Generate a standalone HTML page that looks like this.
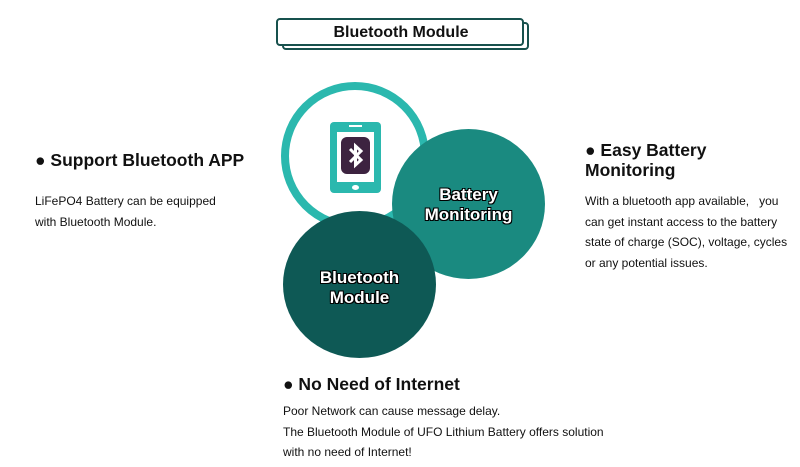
<!DOCTYPE html>
<html><head><meta charset="utf-8"><style>
body{margin:0;width:800px;height:467px;background:#fff;position:relative;overflow:hidden;font-family:"Liberation Sans","DejaVu Sans",sans-serif;color:#111}
.a{position:absolute;white-space:nowrap}
.h{font-size:17.5px;font-weight:bold}
.b{font-size:12px;line-height:20.5px}
.c{position:absolute;border-radius:50%}
.t{position:absolute;color:#fff;font-weight:bold;font-size:17px;text-align:center;line-height:20px;text-shadow:-1px -1px 0 #000,1px -1px 0 #000,-1px 1px 0 #000,1px 1px 0 #000}
</style></head><body>
<div class="a" style="left:282px;top:22px;width:243px;height:24px;border:2px solid #17514d;border-radius:4px"></div>
<div class="a" style="left:276px;top:18px;width:244px;height:24px;border:2px solid #17514d;border-radius:4px;background:#fff"></div>
<div class="a" style="left:278px;top:21px;width:246px;text-align:center;font-size:16px;font-weight:bold;line-height:24px">Bluetooth Module</div>

<div class="c" style="left:281px;top:82px;width:132px;height:132px;border:8px solid #2bb8ae"></div>
<div class="a" style="left:330px;top:122px;width:51px;height:71px;background:#2bb8ae;border-radius:4px"></div>
<div class="a" style="left:337px;top:132px;width:37px;height:50px;background:#fff"></div>
<div class="a" style="left:341px;top:137px;width:29px;height:37px;background:#3d2340;border-radius:6px"></div>
<svg class="a" style="left:341px;top:137px" width="29" height="37"><path d="M9 12 L20 23 L14.5 28 V9 L20 14 L9 25" fill="none" stroke="#fff" stroke-width="3"/></svg>
<div class="a" style="left:352px;top:185px;width:7px;height:5px;background:#fff;border-radius:50%"></div>
<div class="a" style="left:349px;top:125px;width:13px;height:2px;background:#fff"></div>

<div class="c" style="left:392px;top:129px;width:153px;height:150px;background:#1a8a80"></div>
<div class="t" style="left:392px;top:185px;width:153px">Battery<br>Monitoring</div>
<div class="c" style="left:283px;top:211px;width:153px;height:147px;background:#0e5955"></div>
<div class="t" style="left:283px;top:268px;width:153px">Bluetooth<br>Module</div>

<div class="a h" style="left:35px;top:150px">● Support Bluetooth APP</div>
<div class="a b" style="left:35px;top:191px">LiFePO4 Battery can be equipped<br>with Bluetooth Module.</div>

<div class="a h" style="left:585px;top:140px;line-height:20px">● Easy Battery<br>Monitoring</div>
<div class="a b" style="left:585px;top:191px">With a bluetooth app available,&nbsp;&nbsp; you<br>can get instant access to the battery<br>state of charge (SOC), voltage, cycles<br>or any potential issues.</div>

<div class="a h" style="left:283px;top:374px">● No Need of Internet</div>
<div class="a b" style="left:283px;top:401px">Poor Network can cause message delay.<br>The Bluetooth Module of UFO Lithium Battery offers solution<br>with no need of Internet!</div>
</body></html>
